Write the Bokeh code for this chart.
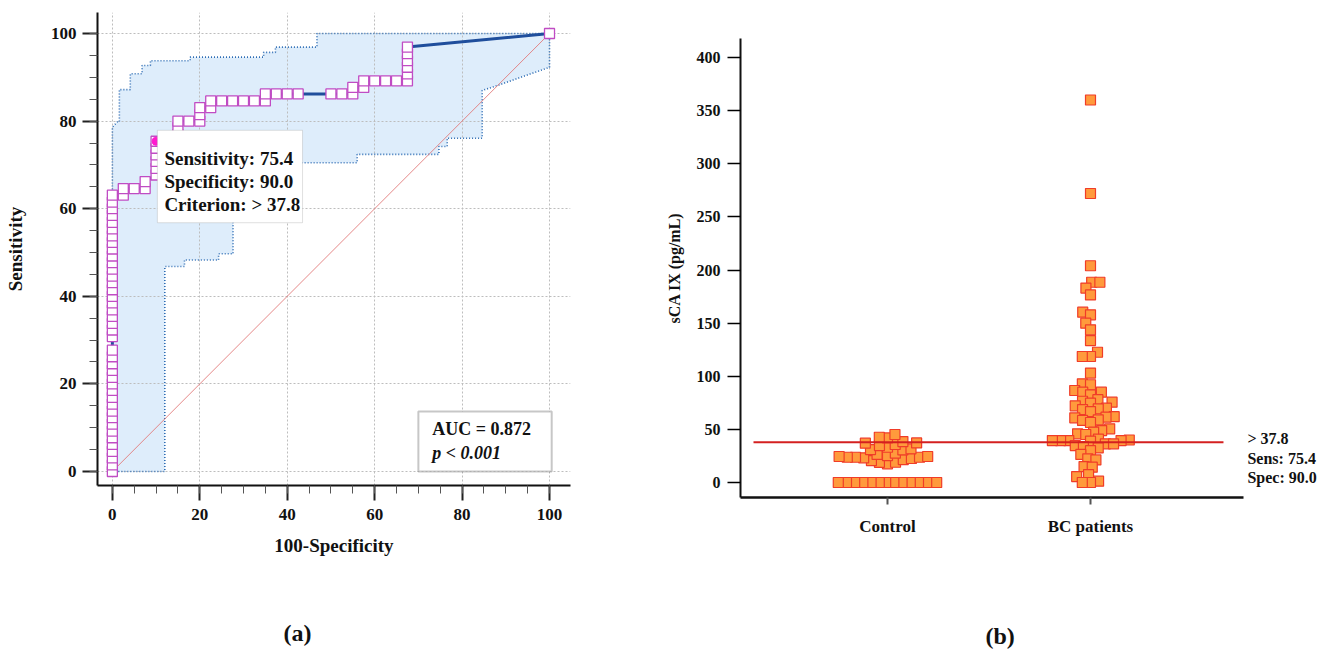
import math
from bokeh.plotting import figure
from bokeh.layouts import row, column
from bokeh.models import Label, BoxAnnotation, SingleIntervalTicker, FixedTicker, Range1d, Title
from bokeh.embed import file_html
from bokeh.resources import INLINE

FONT = "Liberation Serif"

# ---------------- (a) ROC curve data ----------------
roc_fpr = [0, 0, 0, 0, 0, 0, 0, 0, 0, 0, 0, 0, 0, 0, 0, 0, 0, 0, 0,
           0, 0, 0, 0, 0, 0, 0, 0, 0, 0, 0, 0, 0, 0, 0, 0, 0, 0, 0, 0, 0, 0,
           2.5, 2.5, 5.0, 7.5, 7.5, 10, 10, 10, 10, 10, 10,
           12.5, 15, 15, 15, 17.5, 20, 20, 20, 22.5, 22.5,
           25, 27.5, 30, 32.5, 35, 35, 37.5, 40, 42.5, 50, 52.5, 55, 55,
           57.5, 57.5, 60, 62.5, 65, 67.5, 67.5, 67.5, 67.5, 67.5, 67.5, 100]
roc_sens = [0, 1.5, 3.1, 4.6, 6.2, 7.7, 9.2, 10.8, 12.3, 13.8, 15.4, 16.9, 18.5, 20.0, 21.5, 23.1, 24.6, 26.2, 27.7,
            30.8, 32.3, 33.8, 35.4, 36.9, 38.5, 40.0, 41.5, 43.1, 44.6, 46.2, 47.7, 49.2, 50.8, 52.3, 53.8, 55.4,
            56.9, 58.5, 60.0, 61.5, 63.1,
            63.1, 64.6, 64.6, 64.6, 66.2, 67.7, 69.2, 70.8, 72.3, 73.8, 75.4,
            75.4, 76.9, 78.5, 80.0, 80.0, 80.0, 81.5, 83.1, 83.1, 84.6,
            84.6, 84.6, 84.6, 84.6, 84.6, 86.2, 86.2, 86.2, 86.2, 86.2, 86.2, 86.2, 87.7,
            87.7, 89.2, 89.2, 89.2, 89.2, 89.2, 90.8, 92.3, 93.8, 95.4, 96.9, 100]
crit_fpr = [10.0]
crit_sens = [75.4]

upper_fpr = [0, 0, 1.1, 1.6, 1.6, 4.1, 4.1, 6.8, 6.8, 8.7, 8.7, 17.8, 17.8, 34.6, 34.6, 37.3, 37.3, 46.8, 46.8, 100]
upper_sens = [0, 78.6, 79.8, 79.8, 87.2, 87.2, 90.8, 90.8, 92.7, 92.7, 93.8, 93.8, 94.6, 94.6, 95.7, 95.7, 96.9, 96.9, 100, 100]
lower_fpr = [0, 12, 12, 16.5, 16.5, 24.3, 24.3, 27.6, 27.6, 56, 56, 74.7, 74.7, 76.6, 76.6, 84.6, 84.6, 88, 93.4, 100, 100]
lower_sens = [0, 0, 46.8, 46.8, 48.3, 48.3, 49.7, 49.7, 70.5, 70.5, 72.4, 72.4, 74.2, 74.2, 76.1, 76.1, 87, 88.1, 90, 92.3, 100]

ref_line = [0, 100]
crit_lines = ["Sensitivity: 75.4", "Specificity: 90.0", "Criterion: > 37.8"]
auc_line = "AUC = 0.872"
p_line = "p < 0.001"

# ---------------- (b) dot plot data ----------------
groups = ["Control", "BC patients"]
control_vals = [0, 0, 0, 0, 0, 0, 0, 0, 0, 0, 0, 0, 0,
                17.6, 19.1, 19.0, 20.7, 21.6, 22.6, 23.2, 23.8, 23.8, 23.8, 24.5, 24.5, 25.4, 26.4, 27.6,
                30.7, 31.0, 31.7, 33.2, 34.8, 35.8, 37.0, 37.3,
                38.5, 42.0, 42.6, 45.2]
bc_vals = [360, 272, 204, 188.5, 188.5, 183, 176.6, 160.3, 157.8, 150, 143.7, 133.6, 122.6, 118.6, 118.6,
           103, 92.9, 92, 86.6, 85, 85, 82.5, 78, 76.5, 75.6, 74.7, 72.2, 70, 69.3, 68.7, 66.8,
           62, 61.5, 60.9, 59, 58.4, 56.5, 50.5, 48.9, 47.4, 45.8, 45.2, 40.8, 40, 39.5, 39.5, 39.5, 39.5, 38.9,
           36.4, 36.4, 34.8, 33.9, 32.6, 30.0, 26.4, 22.3, 21.3, 15, 14.4, 7.5, 5.6, 1.3, 0, 0]
cutoff = 37.8
cut_lines = ["> 37.8", "Sens: 75.4", "Spec: 90.0"]
panel_tags = ["(a)", "(b)"]

# ======================= figure (a) =======================
A_FW, A_FH = 473, 473
ax_x0, ax_x1 = -3.4, 104.8
ax_y0, ax_y1 = -3.2, 104.8
pa = figure(title=None, frame_width=A_FW, frame_height=A_FH, min_border_left=97, min_border_right=90,
            min_border_top=12, min_border_bottom=169, output_backend="svg", toolbar_location=None,
            x_range=Range1d(ax_x0, ax_x1), y_range=Range1d(ax_y0, ax_y1))
pa.outline_line_color = None
pa.background_fill_color = "white"

band_x = upper_fpr + lower_fpr[::-1]
band_y = upper_sens + lower_sens[::-1]
pa.patch(band_x, band_y, fill_color="#deedfb", line_color=None, level="image")
pa.line(upper_fpr, upper_sens, line_color="#2e6db4", line_dash="1 2", line_width=1.6)
pa.line(lower_fpr, lower_sens, line_color="#2e6db4", line_dash="1 2", line_width=1.6)
pa.line(ref_line, ref_line, line_color="#e27a7a", line_width=0.9)
pa.line(roc_fpr, roc_sens, line_color="#1f4e9c", line_width=3)
pa.scatter(roc_fpr, roc_sens, marker="square", size=10, fill_color="white",
           line_color="#c04cc4", line_width=1.3)
pa.scatter(crit_fpr, crit_sens, marker="circle", size=8, fill_color="#ff1ad0", line_color="#ff1ad0")

for ax in (pa.xaxis[0], pa.yaxis[0]):
    ax.ticker = SingleIntervalTicker(interval=20, num_minor_ticks=4)
    ax.axis_line_width = 2
    ax.axis_line_color = "#111111"
    ax.major_tick_out = 15
    ax.major_tick_in = 0
    ax.major_tick_line_width = 2
    ax.major_tick_line_color = "#222222"
    ax.minor_tick_out = 8
    ax.minor_tick_in = 0
    ax.minor_tick_line_color = "#555555"
    ax.major_label_text_font = FONT
    ax.major_label_text_font_style = "bold"
    ax.major_label_text_font_size = "17px"
    ax.major_label_text_color = "#111111"
    ax.axis_label_text_font = FONT
    ax.axis_label_text_font_style = "bold"
    ax.axis_label_text_font_size = "19px"
    ax.axis_label_text_color = "#111111"
pa.xaxis.axis_label = "100-Specificity"
pa.yaxis.axis_label = "Sensitivity"
pa.xaxis.major_label_standoff = 8
pa.yaxis.major_label_standoff = 6
pa.xaxis.axis_label_standoff = 12
pa.yaxis.axis_label_standoff = 22
for g in (pa.xgrid[0], pa.ygrid[0]):
    g.ticker = SingleIntervalTicker(interval=20)
    g.grid_line_color = "#bdbdbd"
    g.grid_line_dash = "2 2"
    g.grid_line_width = 1

# criterion box
pa.add_layout(BoxAnnotation(left=10.3, right=43.5, top=77.9, bottom=56.8, fill_color="white",
                            fill_alpha=1, line_color="#999999", line_width=1))
for i, t in enumerate(crit_lines):
    pa.add_layout(Label(x=11.9, y=71.5 - i * 5.25, text=t, text_font=FONT, text_font_style="bold",
                        text_font_size="19px", text_baseline="middle", text_align="left",
                        text_color="#111111"))
# AUC box
pa.add_layout(BoxAnnotation(left=70, right=100.5, top=13.7, bottom=0, fill_color="white",
                            fill_alpha=1, line_color="#444444", line_width=2))
pa.add_layout(Label(x=73.2, y=9.8, text=auc_line, text_font=FONT, text_font_style="bold",
                    text_font_size="18px", text_baseline="middle", text_align="left", text_color="#111111"))
pa.add_layout(Label(x=73.2, y=4.3, text=p_line, text_font=FONT, text_font_style="bold italic",
                    text_font_size="18px", text_baseline="middle", text_align="left", text_color="#111111"))
pa.add_layout(Title(text=panel_tags[0], align="left", offset=186, standoff=119, text_font=FONT,
                    text_font_style="bold", text_font_size="24px", text_color="#111111"), "below")

# ======================= figure (b) =======================
B_FW, B_FH = 579, 459
bx0, bx1 = 0.276, 3.128
axis_end = 2.754
by0, by1 = -14.1, 417.9
pb = figure(title=None, frame_width=B_FW, frame_height=B_FH, min_border_left=80, min_border_right=0,
            min_border_top=38, min_border_bottom=157, output_backend="svg", toolbar_location=None,
            x_range=Range1d(bx0, bx1), y_range=Range1d(by0, by1))
pb.outline_line_color = None
pb.grid.visible = False

px_x = B_FW / (bx1 - bx0)
px_y = B_FH / (by1 - by0)


def swarm(vals, d):
    placed = []
    offs = [0.0] * len(vals)
    order = sorted(range(len(vals)), key=lambda i: vals[i])
    for i in order:
        y = vals[i] * px_y
        iv = []
        for xo, yo in placed:
            dy = abs(y - yo)
            if dy < d:
                h = math.sqrt(d * d - dy * dy)
                iv.append((xo - h, xo + h))
        cands = [0.0] + [a for a, b in iv] + [b for a, b in iv]
        cands.sort(key=abs)
        chosen = 0.0
        for c in cands:
            if all(not (a + 1e-6 < c < b - 1e-6) for a, b in iv):
                chosen = c
                break
        placed.append((chosen, y))
        offs[i] = chosen / px_x
    return offs


for gi, vals in enumerate([control_vals, bc_vals]):
    offs = swarm(vals, 8.2)
    xs = [gi + 1 + o for o in offs]
    pb.scatter(xs, vals, marker="square", size=10, fill_color="#ff9a3c", line_color="#f03c28",
               line_width=1.2)

pb.line([0.34, 2.655], [cutoff, cutoff], line_color="#d42020", line_width=2)

pb.yaxis.ticker = SingleIntervalTicker(interval=50, num_minor_ticks=0)
pb.xaxis.ticker = FixedTicker(ticks=[1, 2])
pb.xaxis.major_label_overrides = {1: groups[0], 2: groups[1]}
pb.xaxis.bounds = (bx0, axis_end)
pb.yaxis.axis_label = "sCA IX (pg/mL)"
for ax in (pb.xaxis[0], pb.yaxis[0]):
    ax.axis_line_color = "#111111"
    ax.major_tick_in = 0
    ax.minor_tick_out = 0
    ax.minor_tick_in = 0
    ax.major_label_text_font = FONT
    ax.major_label_text_font_style = "bold"
    ax.major_label_text_color = "#111111"
    ax.axis_label_text_font = FONT
    ax.axis_label_text_font_style = "bold"
    ax.axis_label_text_color = "#111111"
pb.yaxis.axis_line_width = 2
pb.xaxis.axis_line_width = 2.5
pb.yaxis.major_tick_out = 13
pb.yaxis.major_tick_line_width = 1.5
pb.yaxis.major_label_text_font_size = "16px"
pb.yaxis.major_label_standoff = 7
pb.yaxis.axis_label_text_font_size = "16px"
pb.yaxis.axis_label_standoff = 11
pb.xaxis.major_tick_out = 7
pb.xaxis.major_tick_line_width = 2
pb.xaxis.major_tick_line_color = "#555555"
pb.xaxis.major_label_text_font_size = "17px"
pb.xaxis.major_label_standoff = 12

for i, t in enumerate(cut_lines):
    pb.add_layout(Label(x=2.773, y=41.4 - i * 18.4, text=t, text_font=FONT, text_font_style="bold",
                        text_font_size="16px", text_baseline="middle", text_align="left",
                        text_color="#111111"))
pb.add_layout(Title(text=panel_tags[1], align="left", offset=245, standoff=165, text_font=FONT,
                    text_font_style="bold", text_font_size="24px", text_color="#111111"), "below")

layout = row(column(pa), column(pb))
open("out.html", "w").write(file_html(layout, INLINE))
